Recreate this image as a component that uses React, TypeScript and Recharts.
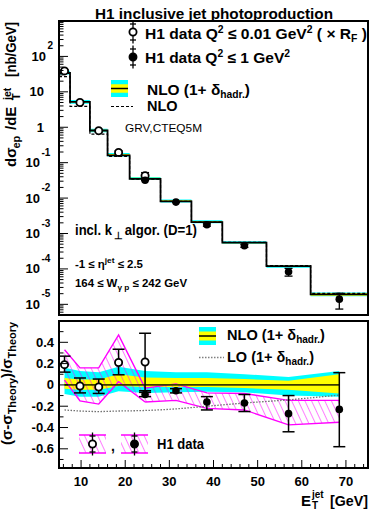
import React from "react"
import { ComposedChart, Line, Area, Scatter, XAxis, YAxis, ErrorBar, ReferenceArea } from "recharts"

const W = 371
const H = 513
const FONT = '"Liberation Sans", Arial, Helvetica, sans-serif'

// E_T^jet binning [GeV]
const binEdges = [5, 7.5, 12, 16, 21, 28, 35, 42, 52, 62, 75]
const binCenters = [6.25, 9.75, 14, 18.5, 24.5, 31.5, 38.5, 47, 57, 68.5]

// theory dsigma/dE_T [nb/GeV]
const nloHadr = [34, 5.2, 0.81, 0.16, 0.035, 0.0081, 0.0021, 0.00055, 0.00012, 0.000019]
const nloPlain = [27, 3.9, 0.64, 0.15, 0.034, 0.0081, 0.0021, 0.00056, 0.000125, 0.0000205]

// relative theory uncertainties
const totalUp = [0.16, 0.13, 0.12, 0.17, 0.13, 0.12, 0.12, 0.1, 0.075, 0.13]
const totalDown = [-0.085, -0.11, -0.11, -0.06, -0.075, -0.07, -0.065, -0.07, -0.1, -0.11]
const scaleUp = [0.065, 0.05, 0.05, 0.1, 0.07, 0.065, 0.065, 0.055, 0.04, 0.1]
const scaleDown = [-0.035, -0.045, -0.045, -0.01, -0.02, -0.02, -0.02, -0.03, -0.045, -0.08]
const loRatio = [-0.235, -0.245, -0.25, -0.245, -0.24, -0.225, -0.2, -0.17, -0.14, -0.095]

// H1 data, Q2 < 0.01 (bins 1-5) and Q2 < 1 (bins 5-10)
const openXsec = [39, 5.0, 0.8, 0.195, 0.043]
const filledXsec = [0.032, 0.0077, 0.00177, 0.00045, 0.000083, 0.000014]
const openRatio = [0.19, -0.01, -0.02, 0.21, 0.215]
const openErrUp = [0.08, 0.075, 0.075, 0.125, 0.27]
const openErrDown = [0.07, 0.065, 0.06, 0.115, 0.27]
const filledRatio = [-0.09, -0.055, -0.16, -0.17, -0.27, -0.23]
const filledErrUp = [0.02, 0.02, 0.05, 0.08, 0.17, 0.345]
const filledErrDown = [0.02, 0.02, 0.075, 0.08, 0.17, 0.35]

// correlated systematics bands
const openBandHi = [0.33, 0.16, 0.16, 0.47, -0.03]
const openBandLo = [0.045, -0.15, -0.18, 0.03, -0.16]
const filledBandHi = [-0.03, 0.01, -0.075, -0.08, -0.145, -0.145]
const filledBandLo = [-0.16, -0.145, -0.22, -0.235, -0.375, -0.35]

const xMajorTicks = [10, 20, 30, 40, 50, 60, 70]
const logMajorTicks = [1e-5, 1e-4, 1e-3, 1e-2, 0.1, 1, 10, 100]
const ratioMajorTicks = [-0.6, -0.4, -0.2, 0, 0.2, 0.4]

const xTicks: number[] = []
for (let v = 6; v <= 74; v += 2) xTicks.push(v)
const logTicks: number[] = []
for (let n = -6; n <= 2; n++) for (let k = 1; k <= 9; k++) {
  const v = Number((k * Math.pow(10, n)).toPrecision(3))
  if (v >= 5e-6 && v <= 1000) logTicks.push(v)
}
const ratioTicks = [-0.7, -0.6, -0.5, -0.4, -0.3, -0.2, -0.1, 0, 0.1, 0.2, 0.3, 0.4, 0.5]

const topRows = binEdges.map((x, i) => {
  const k = Math.min(i, nloHadr.length - 1)
  const t = nloHadr[k]
  return {
    x,
    hadr: t,
    plain: nloPlain[k],
    cyan: [t * (1 + totalDown[k]), t * (1 + totalUp[k])],
    yellow: [t * (1 + scaleDown[k]), t * (1 + scaleUp[k])],
  }
})
const openTop = openXsec.map((y, i) => ({
  x: binCenters[i], y, err: [nloHadr[i] * openErrDown[i], nloHadr[i] * openErrUp[i]],
}))
const filledTop = filledXsec.map((y, i) => ({
  x: binCenters[i + 4], y, err: [nloHadr[i + 4] * filledErrDown[i], nloHadr[i + 4] * filledErrUp[i]],
}))

const ratioRows = binCenters.map((x, i) => ({
  x, zero: 0, lo: loRatio[i],
  cyan: [totalDown[i], totalUp[i]],
  yellow: [scaleDown[i], scaleUp[i]],
}))
const openBand = openBandHi.map((hi, i) => ({ x: binCenters[i], band: [openBandLo[i], hi] }))
const filledBand = filledBandHi.map((hi, i) => ({ x: binCenters[i + 4], band: [filledBandLo[i], hi] }))
const openPts = openRatio.map((y, i) => ({ x: binCenters[i], y, err: [openErrDown[i], openErrUp[i]] }))
const filledPts = filledRatio.map((y, i) => ({ x: binCenters[i + 4], y, err: [filledErrDown[i], filledErrUp[i]] }))

const txt = { fontFamily: FONT, fontWeight: 700, fill: "#000", whiteSpace: "pre" } as React.CSSProperties
const fit = "spacingAndGlyphs"

function XTick(props: any) {
  const { x, y, payload, labels } = props
  const major = xMajorTicks.includes(payload.value)
  return (
    <g>
      <line x1={x} x2={x} y1={y} y2={y - (major ? 8 : 4)} stroke="#000" strokeWidth={1} />
      {labels && major && (
        <text x={x} y={y + 18} textAnchor="middle" fontSize={13} style={txt}>{payload.value}</text>
      )}
    </g>
  )
}

function LogTick(props: any) {
  const { x, y, payload } = props
  const v = payload.value
  const major = logMajorTicks.includes(v)
  const n = Math.round(Math.log10(v))
  let label: React.ReactNode = null
  if (major) {
    if (n === 0 || n === 1) {
      label = <text x={44} y={y + 4.5} textAnchor="end" fontSize={13} style={txt}>{n === 0 ? "1" : "10"}</text>
    } else {
      const endX = n > 0 ? 46 : 40
      label = (
        <g>
          <text x={endX} y={y + 4.5} textAnchor="end" fontSize={13} style={txt}>10</text>
          <text x={endX + 1.5} y={y - 7} fontSize={10} style={txt}>{String(n)}</text>
        </g>
      )
    }
  }
  return (
    <g>
      <line x1={x} x2={x + (major ? 9 : 4.5)} y1={y} y2={y} stroke="#000" strokeWidth={1} />
      {label}
    </g>
  )
}

function RatioTick(props: any) {
  const { x, y, payload } = props
  const v = payload.value
  const major = ratioMajorTicks.some((m) => Math.abs(m - v) < 1e-6)
  return (
    <g>
      <line x1={x} x2={x + (major ? 9 : 4.5)} y1={y} y2={y} stroke="#000" strokeWidth={1} />
      {major && (
        <text x={54} y={y + 4.5} textAnchor="end" fontSize={13} style={txt}>{v === 0 ? "0" : v.toFixed(1)}</text>
      )}
    </g>
  )
}

const OpenDot = (p: any) => <circle cx={p.cx} cy={p.cy} r={3.6} fill="#fff" stroke="#000" strokeWidth={1.8} />
const FullDot = (p: any) => <circle cx={p.cx} cy={p.cy} r={3.8} fill="#000" />

function BandSwatch({ x, y, w, h }: { x: number; y: number; w: number; h: number }) {
  return (
    <g>
      <rect x={x} y={y} width={w} height={h} fill="#00ffff" />
      <rect x={x} y={y + h * 0.25} width={w} height={h * 0.5} fill="#ffff00" />
      <line x1={x} x2={x + w} y1={y + h / 2} y2={y + h / 2} stroke="#000" strokeWidth={1.5} />
    </g>
  )
}

function DataMarker({ cx, cy, open }: { cx: number; cy: number; open: boolean }) {
  return (
    <g stroke="#000" strokeWidth={1.3}>
      <line x1={cx} x2={cx} y1={cy - 11.5} y2={cy + 11.5} />
      <line x1={cx - 3} x2={cx + 3} y1={cy - 8} y2={cy - 8} />
      <line x1={cx - 3} x2={cx + 3} y1={cy + 8} y2={cy + 8} />
      {open ? <circle cx={cx} cy={cy} r={3.6} fill="#fff" strokeWidth={1.8} /> : <circle cx={cx} cy={cy} r={3.8} fill="#000" />}
    </g>
  )
}

function HatchBox({ x, y, w, h, open }: { x: number; y: number; w: number; h: number; open: boolean }) {
  return (
    <g>
      <rect x={x} y={y} width={w} height={h} fill="url(#hatchLegend)" />
      <line x1={x} x2={x + w} y1={y} y2={y} stroke="#ff00ff" strokeWidth={1.5} />
      <line x1={x} x2={x + w} y1={y + h} y2={y + h} stroke="#ff00ff" strokeWidth={1.5} />
      <DataMarker cx={x + w / 2} cy={y + h / 2} open={open} />
    </g>
  )
}

function Overlay() {
  return (
    <svg width={W} height={H} style={{ position: "absolute", left: 0, top: 0, pointerEvents: "none" }}>
      <defs>
        <pattern id="hatchLegend" width={6} height={6} patternUnits="userSpaceOnUse" patternTransform="rotate(-25)">
          <line x1={0} y1={0} x2={0} y2={6} stroke="#ff00ff" strokeWidth={1} />
        </pattern>
      </defs>
      <text x={95} y={19} fontSize={15.5} textLength={238} lengthAdjust={fit} style={txt}>H1 inclusive jet photoproduction</text>

      {/* top y title */}
      <g transform="translate(16,167) rotate(-90)">
        <text x={0} y={0} fontSize={15} style={txt}>dσ</text>
        <text x={18.5} y={4} fontSize={11} style={txt}>ep</text>
        <text x={37} y={0} fontSize={15} style={txt}>/dE</text>
        <text x={67} y={4} fontSize={11} style={txt}>T</text>
        <text x={67} y={-5.5} fontSize={10.5} style={txt}>jet</text>
        <text x={90} y={0} fontSize={15} textLength={55} lengthAdjust={fit} style={txt}>[nb/GeV]</text>
      </g>

      {/* top legend */}
      <DataMarker cx={133} cy={32} open />
      <text x={145} y={38.5} fontSize={15} textLength={222} lengthAdjust={fit} style={txt}>
        H1 data Q<tspan dy={-6} fontSize={10}>2</tspan><tspan dy={6}> ≤ 0.01 GeV</tspan>
        <tspan dy={-6} fontSize={10}>2</tspan><tspan dy={6}> ( × R</tspan><tspan dy={3} fontSize={10}>F</tspan><tspan dy={-3}> )</tspan>
      </text>
      <DataMarker cx={133} cy={57} open={false} />
      <text x={145} y={63} fontSize={15} textLength={145} lengthAdjust={fit} style={txt}>
        H1 data Q<tspan dy={-6} fontSize={10}>2</tspan><tspan dy={6}> ≤ 1 GeV</tspan><tspan dy={-6} fontSize={10}>2</tspan>
      </text>
      <BandSwatch x={111} y={80} w={17} h={17} />
      <text x={147} y={95} fontSize={15} textLength={103} lengthAdjust={fit} style={txt}>
        NLO (1+ δ<tspan dy={3} fontSize={10}>hadr.</tspan><tspan dy={-3}>)</tspan>
      </text>
      <line x1={111} x2={133} y1={106.5} y2={106.5} stroke="#000" strokeWidth={1.2} strokeDasharray="3 2" />
      <text x={147} y={111} fontSize={14.5} style={txt}>NLO</text>
      <text x={125} y={132} fontSize={11} textLength={77} lengthAdjust={fit} style={{ ...txt, fontWeight: 400 }}>GRV,CTEQ5M</text>

      <text x={75} y={235} fontSize={14} textLength={37} lengthAdjust={fit} style={txt}>incl. k</text>
      <text x={113.5} y={239} fontSize={9.5} style={txt}>⊥</text>
      <text x={121} y={235} fontSize={14} textLength={76} lengthAdjust={fit} style={txt}> algor. (D=1)</text>
      <text x={75} y={268} fontSize={11} textLength={68} lengthAdjust={fit} style={txt}>
        -1 ≤ η<tspan dy={-5} fontSize={8}>jet</tspan><tspan dy={5}> ≤ 2.5</tspan>
      </text>
      <text x={75} y={287} fontSize={11} textLength={112} lengthAdjust={fit} style={txt}>
        164 ≤ W<tspan dy={3} fontSize={8}>γ p</tspan><tspan dy={-3}> ≤ 242 GeV</tspan>
      </text>

      {/* bottom y title */}
      <g transform="translate(12,445) rotate(-90)">
        <text x={0} y={0} fontSize={14.5} textLength={123} lengthAdjust={fit} style={txt}>
          (σ-σ<tspan dy={4} fontSize={10.5}>Theory</tspan><tspan dy={-4}>)/σ</tspan><tspan dy={4} fontSize={10.5}>Theory</tspan>
        </text>
      </g>

      {/* bottom legend */}
      <BandSwatch x={199} y={327} w={17} h={18} />
      <text x={227} y={340} fontSize={14.5} textLength={98} lengthAdjust={fit} style={txt}>
        NLO (1+ δ<tspan dy={3} fontSize={10}>hadr.</tspan><tspan dy={-3}>)</tspan>
      </text>
      <line x1={199} x2={224} y1={357.5} y2={357.5} stroke="#808080" strokeWidth={1.3} strokeDasharray="1.5 1.5" />
      <text x={227} y={362} fontSize={14.5} textLength={87} lengthAdjust={fit} style={txt}>
        LO (1+ δ<tspan dy={3} fontSize={10}>hadr.</tspan><tspan dy={-3}>)</tspan>
      </text>
      <HatchBox x={79} y={435} w={27} h={18} open />
      <text x={111} y={451} fontSize={14} style={txt}>,</text>
      <HatchBox x={121} y={435} w={27} h={18} open={false} />
      <text x={157} y={449} fontSize={14} textLength={47} lengthAdjust={fit} style={txt}>H1 data</text>

      {/* x title */}
      <text x={301} y={506} fontSize={15} style={txt}>E</text>
      <text x={312} y={498} fontSize={10} style={txt}>jet</text>
      <text x={312} y={509} fontSize={10} style={txt}>T</text>
      <text x={330} y={506} fontSize={15} textLength={38} lengthAdjust={fit} style={txt}>[GeV]</text>
    </svg>
  )
}

export default function App() {
  return (
    <div style={{ position: "absolute", left: 0, top: 0, width: W, height: H, background: "#fff", fontFamily: FONT }}>
      <div style={{ position: "absolute", left: 0, top: 0 }}>
        <ComposedChart width={W} height={320} data={topRows} margin={{ top: 21, right: 3, bottom: 5, left: 0 }}>
          <XAxis dataKey="x" type="number" domain={[5, 75]} allowDataOverflow ticks={xTicks} interval={0}
            height={0} axisLine={false} tickLine={false} tickSize={0} tickMargin={0}
            tick={(p: any) => <XTick {...p} labels={false} />} />
          <YAxis type="number" scale="log" domain={[5e-6, 1000]} allowDataOverflow ticks={logTicks} interval={0}
            width={59} axisLine={false} tickLine={false} tickSize={0} tickMargin={0} tick={(p: any) => <LogTick {...p} />} />
          <Area dataKey="cyan" type="stepAfter" fill="#00ffff" fillOpacity={1} stroke="none" isAnimationActive={false} />
          <Area dataKey="yellow" type="stepAfter" fill="#ffff00" fillOpacity={1} stroke="none" isAnimationActive={false} />
          <Line dataKey="hadr" type="stepAfter" stroke="#000" strokeWidth={1.8} dot={false} isAnimationActive={false} />
          <Line dataKey="plain" type="stepAfter" stroke="#000" strokeWidth={1.2} strokeDasharray="3 2" dot={false} isAnimationActive={false} />
          <Scatter data={openTop} dataKey="y" shape={OpenDot} isAnimationActive={false}>
            <ErrorBar dataKey="err" direction="y" width={4} stroke="#000" strokeWidth={1.3} />
          </Scatter>
          <Scatter data={filledTop} dataKey="y" shape={FullDot} isAnimationActive={false}>
            <ErrorBar dataKey="err" direction="y" width={4} stroke="#000" strokeWidth={1.3} />
          </Scatter>
          <ReferenceArea x1={5} x2={75} y1={5e-6} y2={1000} fill="none" stroke="#000" strokeWidth={2} />
        </ComposedChart>
      </div>
      <div style={{ position: "absolute", left: 0, top: 316 }}>
        <ComposedChart width={W} height={197} data={ratioRows} margin={{ top: 5, right: 3, bottom: 0, left: 0 }}>
          <defs>
            <pattern id="hatchBand" width={6} height={6} patternUnits="userSpaceOnUse" patternTransform="rotate(-25)">
              <line x1={0} y1={0} x2={0} y2={6} stroke="#ff00ff" strokeWidth={1} />
            </pattern>
          </defs>
          <XAxis dataKey="x" type="number" domain={[5, 75]} allowDataOverflow ticks={xTicks} interval={0}
            height={45} axisLine={false} tickLine={false} tickSize={0} tickMargin={0}
            tick={(p: any) => <XTick {...p} labels />} />
          <YAxis type="number" domain={[-0.78, 0.6]} allowDataOverflow ticks={ratioTicks} interval={0}
            width={59} axisLine={false} tickLine={false} tickSize={0} tickMargin={0} tick={(p: any) => <RatioTick {...p} />} />
          <Area dataKey="cyan" type="linear" fill="#00ffff" fillOpacity={1} stroke="none" isAnimationActive={false} />
          <Area dataKey="yellow" type="linear" fill="#ffff00" fillOpacity={1} stroke="none" isAnimationActive={false} />
          <Line dataKey="zero" type="linear" stroke="#3a3a00" strokeWidth={1.8} dot={false} isAnimationActive={false} />
          <Area data={openBand} dataKey="band" type="linear" fill="url(#hatchBand)" fillOpacity={1} stroke="#ff00ff" strokeWidth={1.4} isAnimationActive={false} />
          <Area data={filledBand} dataKey="band" type="linear" fill="url(#hatchBand)" fillOpacity={1} stroke="#ff00ff" strokeWidth={1.4} isAnimationActive={false} />
          <Line dataKey="lo" type="monotone" stroke="#707070" strokeWidth={1.3} strokeDasharray="1.5 1.5" dot={false} isAnimationActive={false} />
          <Scatter data={openPts} dataKey="y" shape={OpenDot} isAnimationActive={false}>
            <ErrorBar dataKey="err" direction="y" width={6} stroke="#000" strokeWidth={1.5} />
          </Scatter>
          <Scatter data={filledPts} dataKey="y" shape={FullDot} isAnimationActive={false}>
            <ErrorBar dataKey="err" direction="y" width={6} stroke="#000" strokeWidth={1.5} />
          </Scatter>
          <ReferenceArea x1={5} x2={75} y1={-0.78} y2={0.6} fill="none" stroke="#000" strokeWidth={2} />
        </ComposedChart>
      </div>
      <Overlay />
    </div>
  )
}
